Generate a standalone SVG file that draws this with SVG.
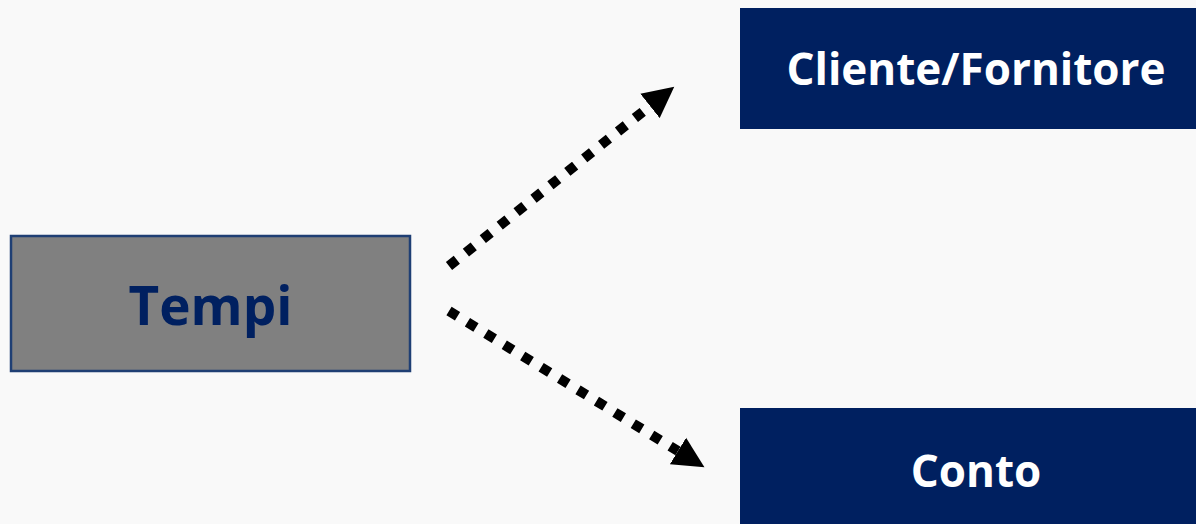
<svg xmlns="http://www.w3.org/2000/svg" width="1196" height="524" viewBox="0 0 1196 524">
<style>
.lbl{font-family:"Open Sans","Liberation Sans",sans-serif;font-weight:bold;text-anchor:middle}
.dark{fill:#002060}
.conn{stroke:#000;stroke-width:10;stroke-dasharray:10 11.6;fill:none}
</style>
<defs>
<marker id="ah" markerUnits="userSpaceOnUse" markerWidth="32" markerHeight="32" refX="0" refY="15.5" orient="auto" viewBox="0 0 32 31">
<path d="M0,0 L31,15.5 L0,31 z" fill="#000"/>
</marker>
</defs>
<rect width="1196" height="524" fill="#f9f9f9"/>
<g id="tempi">
<rect x="11" y="236" width="399" height="135" fill="#808080" stroke="#1f3f74" stroke-width="2.5"/>
<text class="lbl" x="210.5" y="325" font-size="53" fill="#002060">Tempi</text>
</g>
<g id="cliente">
<rect class="dark" x="740" y="8" width="470" height="121"/>
<text class="lbl" x="976" y="85" font-size="44" fill="#fff">Cliente/Fornitore</text>
</g>
<g id="conto">
<rect class="dark" x="740" y="408" width="470" height="130"/>
<text class="lbl" x="976" y="487" font-size="44" fill="#fff">Conto</text>
</g>
<g id="connectors">
<line class="conn" x1="449" y1="266" x2="650" y2="106" marker-end="url(#ah)"/>
<line class="conn" x1="449" y1="311" x2="678" y2="451" marker-end="url(#ah)"/>
</g>
</svg>
